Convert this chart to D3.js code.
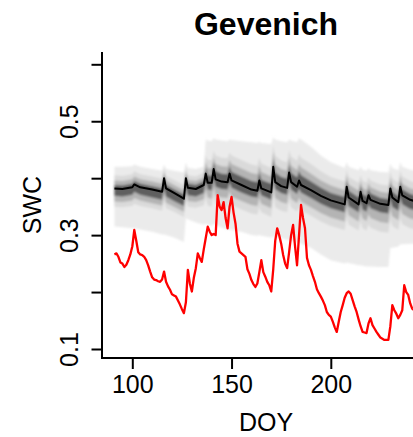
<!DOCTYPE html>
<html>
<head>
<meta charset="utf-8">
<script src="https://cdn.jsdelivr.net/npm/d3@7/dist/d3.min.js"></script>
<style>
  html, body { margin: 0; padding: 0; background: #fff; }
  svg { display: block; }
  text { font-family: "Liberation Sans", Arial, Helvetica, sans-serif; fill: #000; }
</style>
</head>
<body>
<svg id="chart" width="413" height="437"></svg>
<script>
// Observed soil water content, one value per day starting at DOY 91
const obsStartDoy = 91;
const obsSwc = [
  0.266,0.268,0.262,0.252,0.250,0.244,0.248,0.256,0.266,0.280,
  0.309,0.290,0.270,0.266,0.265,0.262,0.256,0.247,0.236,0.226,
  0.222,0.221,0.219,0.218,0.222,0.236,0.218,0.210,0.204,0.196,
  0.194,0.192,0.185,0.178,0.170,0.163,0.182,0.239,0.215,0.201,
  0.225,0.242,0.268,0.260,0.253,0.275,0.295,0.315,0.306,0.300,
  0.302,0.300,0.370,0.350,0.344,0.358,0.330,0.312,0.350,0.367,
  0.340,0.320,0.285,0.271,0.268,0.265,0.262,0.240,0.232,0.221,
  0.214,0.209,0.215,0.235,0.256,0.235,0.227,0.218,0.212,0.201,
  0.240,0.290,0.312,0.300,0.285,0.265,0.250,0.242,0.270,0.300,
  0.318,0.280,0.247,0.300,0.353,0.330,0.312,0.260,0.247,0.239,
  0.228,0.218,0.205,0.198,0.192,0.185,0.177,0.165,0.160,0.157,
  0.148,0.138,0.130,0.148,0.165,0.177,0.190,0.198,0.201,0.197,
  0.186,0.175,0.165,0.152,0.140,0.130,0.129,0.128,0.145,0.154,
  0.142,0.136,0.130,0.125,0.120,0.118,0.116,0.116,0.116,0.140,
  0.177,0.168,0.162,0.154,0.160,0.168,0.212,0.200,0.195,0.180,
  0.171,0.168,0.170
];

// Simulated ensemble: median and nested quantile envelopes (outer = 1, inner = 4)
const simDoy = [91,95,100,101,104,110,115,116,117,121,126,127,128,132,136,137,138,140,141,142,
  145,148,149,150,155,160,163,164,165,170,171,172,175,178,179,180,183,184,185,190,
  195,200,207,208,209,214,215,216,218,219,220,225,229,230,231,234,235,236,240,244];
const simMed = [.382,.381,.384,.389,.384,.380,.376,.400,.382,.374,.364,.400,.383,.381,.388,.408,.392,.392,.416,.398,
  .394,.393,.408,.396,.388,.380,.378,.396,.382,.375,.420,.393,.386,.383,.410,.393,.385,.396,.388,.379,
  .369,.361,.354,.385,.366,.354,.376,.360,.356,.370,.362,.355,.353,.382,.366,.358,.385,.370,.362,.358];
const simHi1 = [.420,.420,.421,.424,.420,.416,.413,.424,.416,.413,.410,.428,.418,.416,.420,.468,.466,.465,.470,.468,
  .466,.465,.468,.467,.465,.463,.462,.464,.462,.460,.472,.468,.465,.463,.468,.466,.463,.470,.468,.455,
  .440,.428,.418,.428,.420,.414,.420,.415,.413,.418,.414,.411,.410,.426,.418,.414,.428,.420,.415,.413];
const simHi2 = [.405,.404,.407,.412,.407,.403,.399,.418,.404,.397,.388,.420,.405,.403,.410,.440,.432,.432,.448,.440,
  .436,.435,.445,.440,.432,.424,.422,.436,.426,.418,.458,.440,.431,.428,.450,.438,.430,.442,.436,.425,
  .412,.402,.394,.415,.402,.392,.405,.396,.392,.402,.396,.389,.387,.412,.400,.392,.414,.403,.395,.391];
const simHi3 = [.396,.395,.398,.403,.398,.394,.390,.412,.396,.388,.379,.413,.397,.395,.401,.428,.418,.417,.436,.425,
  .421,.420,.432,.425,.417,.409,.407,.422,.411,.403,.446,.424,.416,.413,.436,.422,.414,.425,.419,.408,
  .396,.387,.379,.405,.389,.378,.395,.383,.379,.391,.384,.376,.374,.401,.387,.379,.404,.390,.382,.378];
const simHi4 = [.388,.387,.390,.395,.390,.386,.382,.406,.388,.380,.371,.407,.390,.388,.394,.418,.405,.404,.428,.412,
  .408,.407,.421,.411,.403,.395,.393,.410,.397,.390,.434,.410,.402,.399,.424,.409,.401,.412,.405,.394,
  .383,.374,.367,.396,.378,.366,.387,.372,.368,.381,.373,.365,.363,.392,.376,.368,.395,.380,.372,.368];
const simLo4 = [.369,.368,.371,.376,.371,.366,.362,.384,.368,.360,.351,.385,.370,.368,.374,.395,.380,.379,.400,.385,
  .381,.380,.393,.383,.375,.368,.366,.381,.370,.362,.404,.381,.374,.371,.395,.380,.372,.382,.375,.365,
  .355,.347,.340,.368,.351,.340,.360,.345,.341,.354,.347,.340,.338,.364,.350,.343,.367,.354,.346,.343];
const simLo3 = [.359,.358,.361,.365,.361,.356,.352,.372,.357,.350,.341,.373,.360,.358,.363,.380,.366,.364,.384,.370,
  .366,.365,.377,.368,.360,.353,.351,.365,.355,.347,.388,.365,.358,.355,.378,.364,.356,.366,.359,.349,
  .339,.331,.324,.350,.335,.324,.342,.329,.325,.337,.330,.323,.321,.346,.333,.326,.349,.337,.329,.326];
const simLo2 = [.350,.349,.351,.355,.351,.347,.343,.360,.347,.341,.332,.362,.350,.348,.352,.366,.352,.350,.368,.355,
  .351,.350,.361,.353,.345,.338,.336,.349,.340,.332,.372,.349,.343,.340,.362,.349,.341,.350,.344,.334,
  .324,.316,.309,.332,.318,.308,.325,.312,.308,.319,.313,.306,.304,.328,.316,.309,.331,.319,.312,.309];
const simLo1 = [.315,.314,.312,.312,.310,.306,.301,.301,.300,.296,.288,.330,.328,.322,.318,.320,.318,.316,.320,.318,
  .313,.310,.310,.309,.306,.300,.299,.300,.299,.296,.298,.298,.295,.292,.292,.291,.288,.287,.285,.278,
  .266,.256,.250,.252,.251,.247,.247,.246,.245,.245,.245,.244,.244,.278,.278,.280,.284,.284,.285,.285];

const xTicks = [100, 150, 200];
const yTicks = [0.1, 0.2, 0.3, 0.4, 0.5, 0.6];
const yTickLabels = ["0.1", "", "0.3", "", "0.5", ""];
const bandFills = ["#ebebeb", "#dadada", "#b4b4b4", "#5e5e5e"];

const svg = d3.select("#chart");

// plot box (R-style "l" box) and scales
const box = { left: 102, right: 440, top: 52, bottom: 358 };
const x = d3.scaleLinear().domain([100, 200]).range([132.3, 330.8]);
const y = d3.scaleLinear().domain([0.1, 0.6]).range([349, 64.3]);

const defs = svg.append("defs");
defs.append("clipPath").attr("id", "plotClip")
  .append("rect")
  .attr("x", box.left).attr("y", box.top)
  .attr("width", box.right - box.left).attr("height", box.bottom - box.top);
defs.append("filter").attr("id", "soft")
  .attr("x", "-5%").attr("y", "-5%").attr("width", "110%").attr("height", "110%")
  .append("feGaussianBlur").attr("stdDeviation", 0.9);

const plot = svg.append("g").attr("clip-path", "url(#plotClip)");
const bands = plot.append("g").attr("filter", "url(#soft)");

// ensemble envelopes, outer to inner
const sim = simDoy.map((d, i) => ({
  doy: d, med: simMed[i],
  lo: [simLo1[i], simLo2[i], simLo3[i], simLo4[i]],
  hi: [simHi1[i], simHi2[i], simHi3[i], simHi4[i]]
}));

bandFills.forEach((fill, k) => {
  const area = d3.area()
    .x(d => x(d.doy))
    .y0(d => y(d.lo[k]))
    .y1(d => y(d.hi[k]));
  bands.append("path")
    .datum(sim)
    .attr("d", area)
    .attr("fill", fill);
});

// ensemble median
plot.append("path")
  .datum(sim)
  .attr("d", d3.line().x(d => x(d.doy)).y(d => y(d.med)))
  .attr("fill", "none")
  .attr("stroke", "#000")
  .attr("stroke-width", 2)
  .attr("stroke-linejoin", "round");

// observations
const obs = obsSwc.map((v, i) => ({ doy: obsStartDoy + i, swc: v }));
plot.append("path")
  .datum(obs)
  .attr("d", d3.line().x(d => x(d.doy)).y(d => y(d.swc)))
  .attr("fill", "none")
  .attr("stroke", "#ff0000")
  .attr("stroke-width", 2.3)
  .attr("stroke-linejoin", "round");

// axes
svg.append("path")
  .attr("d", `M${box.left},${box.top}V${box.bottom}H${box.right}`)
  .attr("fill", "none").attr("stroke", "#000").attr("stroke-width", 2);

const yAxis = d3.axisLeft(y).tickValues(yTicks).tickSize(10.5).tickPadding(14)
  .tickFormat((d, i) => yTickLabels[i]);
const yg = svg.append("g").attr("transform", `translate(${box.left},0)`).call(yAxis);
yg.select(".domain").remove();
yg.selectAll(".tick line").attr("stroke", "#000").attr("stroke-width", 2);
yg.selectAll(".tick text")
  .attr("x", null).attr("dy", null)
  .attr("text-anchor", "middle")
  .attr("transform", "translate(-24,0) rotate(-90)")
  .attr("font-size", 25).attr("font-family", "'Liberation Sans', Arial, sans-serif")
  .attr("fill", "#000");

const xAxis = d3.axisBottom(x).tickValues(xTicks).tickSize(11).tickFormat(d3.format("d"));
const xg = svg.append("g").attr("transform", `translate(0,${box.bottom})`).call(xAxis);
xg.select(".domain").remove();
xg.selectAll(".tick line").attr("stroke", "#000").attr("stroke-width", 2);
xg.selectAll(".tick text")
  .attr("y", 35).attr("dy", null)
  .attr("font-size", 25).attr("font-family", "'Liberation Sans', Arial, sans-serif")
  .attr("fill", "#000");

// titles
const cx = 266;
svg.append("text").attr("x", cx).attr("y", 34.5).attr("text-anchor", "middle")
  .attr("font-size", 32).attr("font-weight", "bold").text("Gevenich");
svg.append("text").attr("x", cx).attr("y", 431).attr("text-anchor", "middle")
  .attr("font-size", 25).text("DOY");
svg.append("text").attr("transform", "translate(41,205) rotate(-90)")
  .attr("text-anchor", "middle").attr("font-size", 25).text("SWC");
</script>
</body>
</html>
